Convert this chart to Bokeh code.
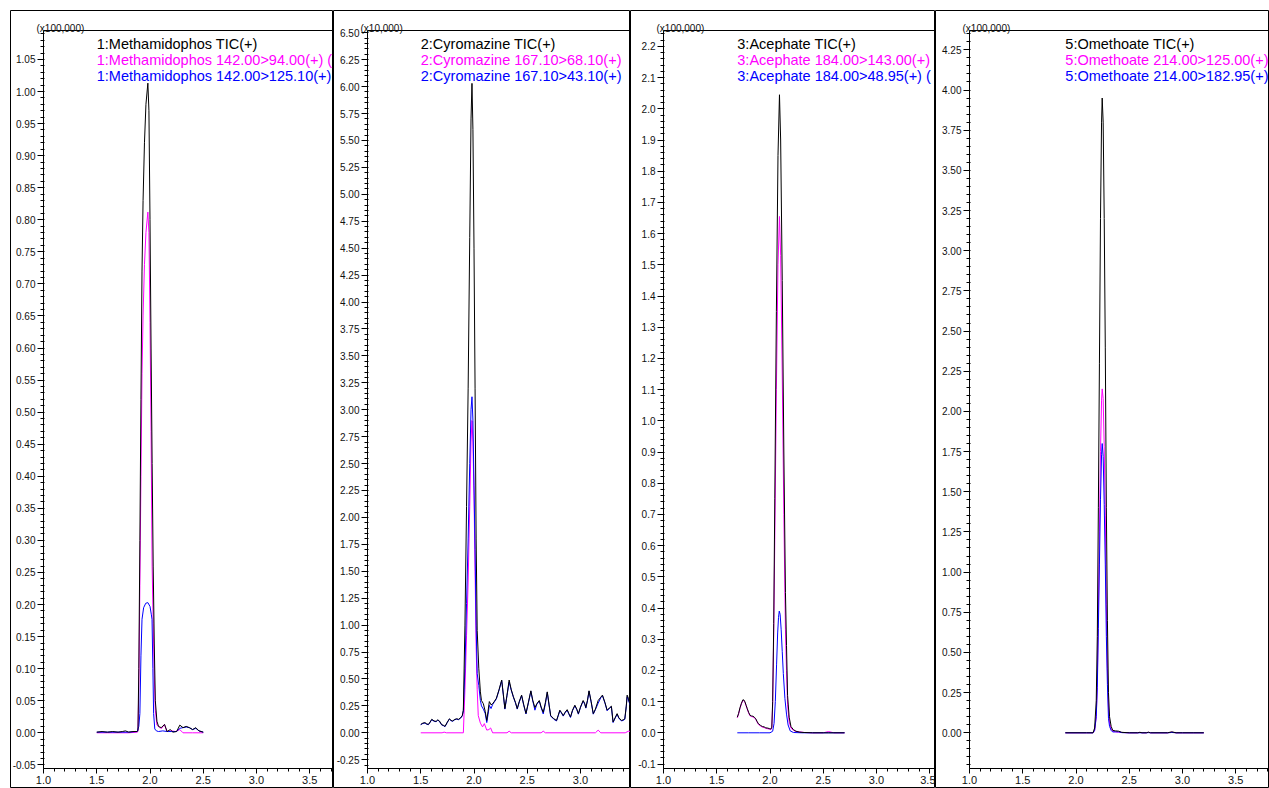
from bokeh.plotting import figure
from bokeh.layouts import row
from bokeh.models import (Range1d, LinearAxis, SingleIntervalTicker, FixedTicker,
                          NumeralTickFormatter, Label)
from bokeh.embed import file_html
from bokeh.resources import INLINE

FONT = "Liberation Sans"
C_TIC = "#000000"
C_Q1 = "#FF00FF"
C_Q2 = "#0000FF"

# ---------------- Panel 1: Methamidophos (x100,000) ----------------
p1_names = ["1:Methamidophos TIC(+)", "1:Methamidophos 142.00>94.00(+) (",
            "1:Methamidophos 142.00>125.10(+)"]
p1_tic_t = [1.500, 1.550, 1.600, 1.650, 1.700, 1.740, 1.770, 1.800, 1.840, 1.880,
            1.887, 1.895, 1.905, 1.915, 1.925, 1.935, 1.948, 1.962, 1.980, 1.990,
            2.000, 2.010, 2.020, 2.030, 2.040, 2.050, 2.065, 2.080, 2.105, 2.137,
            2.160, 2.190, 2.215, 2.250, 2.280, 2.310, 2.340, 2.370, 2.400, 2.430,
            2.460, 2.500]
p1_tic_y = [0.001, 0.002, 0.001, 0.002, 0.001, 0.002, 0.003, 0.001, 0.002, 0.002,
            0.004, 0.100, 0.300, 0.520, 0.720, 0.830, 0.920, 0.980, 1.013, 0.970,
            0.800, 0.600, 0.420, 0.260, 0.140, 0.050, 0.018, 0.010, 0.008, 0.013,
            0.002, 0.005, 0.001, 0.002, 0.012, 0.008, 0.010, 0.008, 0.005, 0.008,
            0.003, 0.001]
p1_q1_t = [1.500, 1.600, 1.700, 1.800, 1.880, 1.887, 1.895, 1.905, 1.915, 1.925,
           1.935, 1.948, 1.962, 1.980, 1.990, 2.000, 2.010, 2.020, 2.030, 2.040,
           2.050, 2.065, 2.090, 2.110, 2.135, 2.160, 2.200, 2.240, 2.280, 2.310,
           2.400, 2.500]
p1_q1_y = [0.000, 0.000, 0.000, 0.000, 0.001, 0.002, 0.070, 0.230, 0.400, 0.560,
           0.650, 0.730, 0.780, 0.812, 0.780, 0.640, 0.470, 0.260, 0.170, 0.090,
           0.035, 0.012, 0.008, 0.007, 0.013, 0.002, 0.003, 0.002, 0.005, 0.000,
           0.000, 0.000]
p1_q2_t = [1.500, 1.600, 1.700, 1.800, 1.880, 1.895, 1.905, 1.915, 1.925, 1.940,
           1.960, 1.980, 2.000, 2.012, 2.019, 2.027, 2.034, 2.045, 2.060, 2.080,
           2.120, 2.160, 2.200, 2.250, 2.280, 2.310, 2.340, 2.370, 2.400, 2.430,
           2.460, 2.500]
p1_q2_y = [0.001, 0.001, 0.001, 0.001, 0.002, 0.010, 0.030, 0.120, 0.177, 0.195,
           0.202, 0.203, 0.197, 0.185, 0.177, 0.100, 0.030, 0.006, 0.003, 0.002,
           0.003, 0.002, 0.002, 0.002, 0.007, 0.008, 0.009, 0.008, 0.005, 0.007,
           0.003, 0.001]

# ---------------- Panel 2: Cyromazine (x10,000) ----------------
p2_names = ["2:Cyromazine TIC(+)", "2:Cyromazine 167.10>68.10(+)",
            "2:Cyromazine 167.10>43.10(+)"]
p2_t = [1.500, 1.520, 1.540, 1.557, 1.572, 1.588, 1.603, 1.625, 1.644, 1.660,
        1.675, 1.697, 1.712, 1.728, 1.750, 1.769, 1.785, 1.800, 1.820, 1.838,
        1.855, 1.875, 1.890, 1.900, 1.915, 1.930, 1.945, 1.960, 1.972, 1.981,
        1.990, 2.000, 2.010, 2.020, 2.030, 2.045, 2.060, 2.070, 2.088, 2.105,
        2.120, 2.132, 2.144, 2.160, 2.175, 2.190, 2.210, 2.235, 2.260, 2.275,
        2.290, 2.310, 2.330, 2.350, 2.370, 2.390, 2.406, 2.425, 2.447, 2.467,
        2.488, 2.510, 2.534, 2.552, 2.572, 2.590, 2.613, 2.630, 2.650, 2.670,
        2.688, 2.705, 2.720, 2.750, 2.775, 2.790, 2.806, 2.820, 2.838, 2.855,
        2.875, 2.890, 2.906, 2.925, 2.947, 2.965, 2.980, 3.000, 3.025, 3.040,
        3.050, 3.065, 3.080, 3.100, 3.120, 3.140, 3.166, 3.190, 3.206, 3.230,
        3.250, 3.270, 3.290, 3.306, 3.325, 3.344, 3.360, 3.384, 3.400, 3.416,
        3.430, 3.438, 3.450, 3.463, 3.500]
p2_tic_y = [0.078, 0.090, 0.094, 0.082, 0.078, 0.100, 0.125, 0.110, 0.106, 0.120,
            0.110, 0.075, 0.070, 0.060, 0.100, 0.130, 0.115, 0.110, 0.125, 0.130,
            0.125, 0.140, 0.160, 0.210, 1.000, 2.100, 3.200, 4.600, 5.700, 6.030,
            5.600, 4.500, 3.200, 1.800, 0.950, 0.600, 0.380, 0.300, 0.270, 0.200,
            0.115, 0.200, 0.290, 0.260, 0.270, 0.290, 0.320, 0.400, 0.490, 0.360,
            0.225, 0.350, 0.490, 0.400, 0.335, 0.280, 0.225, 0.290, 0.350, 0.260,
            0.180, 0.280, 0.390, 0.300, 0.234, 0.270, 0.300, 0.240, 0.190, 0.280,
            0.380, 0.260, 0.160, 0.130, 0.115, 0.160, 0.210, 0.190, 0.160, 0.190,
            0.215, 0.180, 0.147, 0.210, 0.256, 0.220, 0.178, 0.240, 0.300, 0.270,
            0.234, 0.300, 0.390, 0.290, 0.178, 0.220, 0.300, 0.330, 0.350, 0.280,
            0.210, 0.230, 0.247, 0.100, 0.140, 0.178, 0.140, 0.115, 0.120, 0.130,
            0.250, 0.350, 0.320, 0.270, 0.200]
p2_q2_y = [0.075, 0.087, 0.091, 0.079, 0.075, 0.097, 0.122, 0.107, 0.103, 0.117,
           0.107, 0.072, 0.067, 0.057, 0.097, 0.127, 0.112, 0.107, 0.122, 0.127,
           0.122, 0.137, 0.157, 0.205, 0.600, 1.200, 1.800, 2.500, 3.000, 3.120,
           2.900, 2.300, 1.700, 1.000, 0.550, 0.440, 0.300, 0.250, 0.220, 0.180,
           0.095, 0.170, 0.255, 0.225, 0.262, 0.285, 0.315, 0.395, 0.485, 0.355,
           0.220, 0.345, 0.470, 0.395, 0.330, 0.275, 0.220, 0.285, 0.345, 0.255,
           0.175, 0.275, 0.385, 0.295, 0.210, 0.265, 0.295, 0.235, 0.175, 0.265,
           0.375, 0.255, 0.155, 0.125, 0.110, 0.155, 0.205, 0.185, 0.155, 0.185,
           0.210, 0.175, 0.142, 0.205, 0.251, 0.215, 0.173, 0.235, 0.295, 0.265,
           0.229, 0.295, 0.385, 0.285, 0.173, 0.215, 0.275, 0.325, 0.345, 0.275,
           0.205, 0.225, 0.242, 0.095, 0.135, 0.173, 0.135, 0.110, 0.115, 0.125,
           0.245, 0.335, 0.305, 0.265, 0.190]
p2_q1_t = [1.500, 1.700, 1.720, 1.740, 1.900, 1.915, 1.930, 1.945, 1.960, 1.972,
           1.981, 1.990, 2.000, 2.010, 2.020, 2.030, 2.040, 2.060, 2.080, 2.097,
           2.120, 2.140, 2.156, 2.175, 2.310, 2.330, 2.350, 2.630, 2.650, 2.670,
           3.140, 3.166, 3.190, 3.420, 3.450, 3.500]
p2_q1_y = [0.000, 0.000, 0.006, 0.000, 0.000, 0.400, 0.900, 1.400, 2.100, 2.700,
           2.900, 2.700, 2.200, 1.500, 0.800, 0.400, 0.160, 0.090, 0.055, 0.085,
           0.025, 0.030, 0.045, 0.000, 0.000, 0.015, 0.000, 0.000, 0.015, 0.000,
           0.000, 0.025, 0.000, 0.000, 0.015, 0.010]

# ---------------- Panel 3: Acephate (x100,000) ----------------
p3_names = ["3:Acephate TIC(+)", "3:Acephate 184.00>143.00(+)",
            "3:Acephate 184.00>48.95(+) ("]
p3_t = [1.693, 1.705, 1.718, 1.732, 1.746, 1.755, 1.765, 1.776, 1.787, 1.800,
        1.813, 1.826, 1.840, 1.853, 1.866, 1.878, 1.891, 1.910, 1.929, 1.945,
        1.960, 1.980, 1.998, 2.008, 2.017, 2.025, 2.035, 2.045, 2.060, 2.075,
        2.089, 2.100, 2.115, 2.130, 2.145, 2.155, 2.165, 2.180, 2.197, 2.220,
        2.244, 2.280, 2.320, 2.400, 2.500, 2.550, 2.600, 2.700]
p3_tic_y = [0.050, 0.062, 0.080, 0.095, 0.106, 0.105, 0.099, 0.088, 0.077, 0.065,
            0.056, 0.054, 0.053, 0.050, 0.045, 0.037, 0.029, 0.024, 0.020, 0.019,
            0.016, 0.015, 0.013, 0.012, 0.018, 0.100, 0.350, 0.750, 1.350, 1.850,
            2.045, 1.900, 1.450, 0.900, 0.450, 0.280, 0.120, 0.050, 0.020, 0.010,
            0.005, 0.002, 0.001, 0.000, 0.000, 0.000, 0.000, 0.000]
p3_q1_y = [0.048, 0.060, 0.078, 0.093, 0.104, 0.103, 0.097, 0.086, 0.075, 0.063,
           0.054, 0.052, 0.051, 0.048, 0.043, 0.035, 0.027, 0.022, 0.018, 0.017,
           0.014, 0.013, 0.011, 0.010, 0.016, 0.090, 0.320, 0.620, 1.100, 1.500,
           1.655, 1.530, 1.150, 0.700, 0.330, 0.200, 0.090, 0.035, 0.015, 0.008,
           0.004, 0.003, 0.001, 0.000, 0.000, 0.004, 0.000, 0.000]
p3_q2_t = [1.693, 1.800, 1.900, 2.000, 2.025, 2.038, 2.050, 2.062, 2.072, 2.080,
           2.087, 2.095, 2.105, 2.115, 2.125, 2.140, 2.155, 2.170, 2.190, 2.220,
           2.300, 2.400, 2.500, 2.600, 2.700]
p3_q2_y = [0.000, 0.000, 0.000, 0.000, 0.005, 0.030, 0.100, 0.220, 0.320, 0.370,
           0.390, 0.380, 0.330, 0.260, 0.190, 0.110, 0.060, 0.025, 0.006, 0.001,
           0.000, 0.000, 0.000, 0.000, 0.000]

# ---------------- Panel 4: Omethoate (x100,000) ----------------
p4_names = ["5:Omethoate TIC(+)", "5:Omethoate 214.00>125.00(+)",
            "5:Omethoate 214.00>182.95(+)"]
p4_t = [1.900, 2.000, 2.100, 2.160, 2.175, 2.190, 2.200, 2.210, 2.220, 2.230,
        2.240, 2.246, 2.255, 2.265, 2.275, 2.285, 2.295, 2.305, 2.315, 2.330,
        2.345, 2.370, 2.400, 2.430, 2.500, 2.580, 2.600, 2.620, 2.660, 2.680,
        2.700, 2.860, 2.900, 2.940, 3.000, 3.100, 3.200]
p4_tic_y = [0.000, 0.000, 0.000, 0.000, 0.030, 0.200, 0.600, 1.400, 2.300, 3.200,
            3.800, 3.950, 3.800, 3.200, 2.400, 1.400, 0.700, 0.250, 0.100, 0.040,
            0.015, 0.012, 0.010, 0.003, 0.000, 0.000, 0.003, 0.000, 0.000, 0.004,
            0.000, 0.000, 0.006, 0.000, 0.000, 0.000, 0.000]
p4_q1_y = [0.000, 0.000, 0.000, 0.000, 0.015, 0.100, 0.320, 0.750, 1.250, 1.750,
           2.070, 2.140, 2.080, 1.780, 1.350, 0.800, 0.400, 0.160, 0.060, 0.025,
           0.010, 0.006, 0.004, 0.002, 0.000, 0.000, 0.003, 0.000, 0.000, 0.003,
           0.000, 0.000, 0.004, 0.000, 0.000, 0.000, 0.000]
p4_q2_y = [0.000, 0.000, 0.000, 0.000, 0.015, 0.100, 0.280, 0.650, 1.050, 1.450,
           1.730, 1.800, 1.720, 1.420, 1.050, 0.600, 0.300, 0.090, 0.040, 0.015,
           0.005, 0.006, 0.006, 0.001, 0.000, 0.000, 0.000, 0.000, 0.000, 0.001,
           0.000, 0.000, 0.002, 0.000, 0.000, 0.000, 0.000]

scale_labels = ["(x100,000)", "(x10,000)", "(x100,000)", "(x100,000)"]
y_intervals = [0.05, 0.25, 0.1, 0.25]
y_formats = ["0.00", "0.00", "0.0", "0.00"]

# ---------------- layout constants (pixels) ----------------
H = 788
FRAME_TOP = 10
FRAME_H = H - FRAME_TOP
PX_PER_MIN = 106.5
ZERO_FROM_TOP = 722.3
INNER_TOP = 20
INNER_BOTTOM = 758

layout_cfg = [
    dict(width=333, left=10, axis_off=33, ppu=641.3),
    dict(width=297, left=0, axis_off=34, ppu=107.7),
    dict(width=305, left=0, axis_off=33, ppu=312.0),
    dict(width=334, left=0, axis_off=34, ppu=160.7),
]

traces = [
    [(p1_q1_t, p1_q1_y, C_Q1), (p1_q2_t, p1_q2_y, C_Q2), (p1_tic_t, p1_tic_y, C_TIC)],
    [(p2_q1_t, p2_q1_y, C_Q1), (p2_t, p2_q2_y, C_Q2), (p2_t, p2_tic_y, C_TIC)],
    [(p3_t, p3_q1_y, C_Q1), (p3_q2_t, p3_q2_y, C_Q2), (p3_t, p3_tic_y, C_TIC)],
    [(p4_t, p4_q1_y, C_Q1), (p4_t, p4_q2_y, C_Q2), (p4_t, p4_tic_y, C_TIC)],
]
names = [p1_names, p2_names, p3_names, p4_names]
starts = [p1_tic_t[0], p2_t[0], p3_t[0], p4_t[0]]


def make_panel(i):
    cfg = layout_cfg[i]
    ppu = cfg["ppu"]
    fw = cfg["width"] - cfg["left"]
    x0 = 1.0 - cfg["axis_off"] / PX_PER_MIN
    x1 = 1.0 + (fw - cfg["axis_off"]) / PX_PER_MIN
    y1 = ZERO_FROM_TOP / ppu
    y0 = -(FRAME_H - ZERO_FROM_TOP) / ppu
    y_in_top = (ZERO_FROM_TOP - INNER_TOP) / ppu
    y_in_bot = -(INNER_BOTTOM - ZERO_FROM_TOP) / ppu

    def ypx(off):
        return (ZERO_FROM_TOP - off) / ppu

    p = figure(width=cfg["width"], height=H, x_range=Range1d(x0, x1),
               y_range=Range1d(y0, y1), x_axis_type=None, y_axis_type=None,
               output_backend="svg", toolbar_location=None,
               min_border_left=cfg["left"], min_border_right=0,
               min_border_top=FRAME_TOP, min_border_bottom=0)
    p.outline_line_color = "black"
    p.outline_line_width = 1
    p.background_fill_color = "white"
    p.border_fill_color = "white"

    yax = LinearAxis(fixed_location=1.0, bounds=(y_in_bot, y_in_top),
                     ticker=SingleIntervalTicker(interval=y_intervals[i], num_minor_ticks=5),
                     formatter=NumeralTickFormatter(format=y_formats[i]),
                     axis_line_color="black", major_tick_line_color="black",
                     minor_tick_line_color="black",
                     major_tick_out=6, major_tick_in=0, minor_tick_out=3, minor_tick_in=1,
                     major_label_text_font=FONT, major_label_text_font_size="10px",
                     major_label_text_color="#111111", major_label_standoff=2)
    p.add_layout(yax, "left")

    xax = LinearAxis(fixed_location=y_in_bot, bounds=(1.0, x1),
                     ticker=SingleIntervalTicker(interval=0.5, num_minor_ticks=5),
                     formatter=NumeralTickFormatter(format="0.0"),
                     axis_line_color="black", major_tick_line_color="black",
                     minor_tick_line_color="black",
                     major_tick_out=5, major_tick_in=0, minor_tick_out=3, minor_tick_in=0,
                     major_label_text_font=FONT, major_label_text_font_size="11px",
                     major_label_text_color="#111111", major_label_standoff=2)
    p.add_layout(xax, "below")

    tax = LinearAxis(fixed_location=y_in_top, bounds=(1.0, x1),
                     ticker=FixedTicker(ticks=[]), axis_line_color="black",
                     major_tick_line_color=None, minor_tick_line_color=None,
                     major_label_text_font_size="0px")
    p.add_layout(tax, "above")

    for t, v, c in traces[i]:
        p.line(t, v, line_color=c, line_width=1)

    p.add_layout(Label(x=1.0, y=ypx(17.5), x_offset=-7, text=scale_labels[i],
                       text_font=FONT, text_font_size="10px", text_color="#111111",
                       text_baseline="alphabetic", text_align="left"))
    for k, (txt, col) in enumerate(zip(names[i], [C_TIC, C_Q1, C_Q2])):
        p.add_layout(Label(x=starts[i], y=ypx(33.3 + 16 * k), text=txt,
                           text_font=FONT, text_font_size="14.5px", text_color=col,
                           text_baseline="alphabetic", text_align="left"))
    return p


panels = [make_panel(i) for i in range(4)]
layout = row(*panels)

open("out.html", "w").write(file_html(layout, INLINE))
